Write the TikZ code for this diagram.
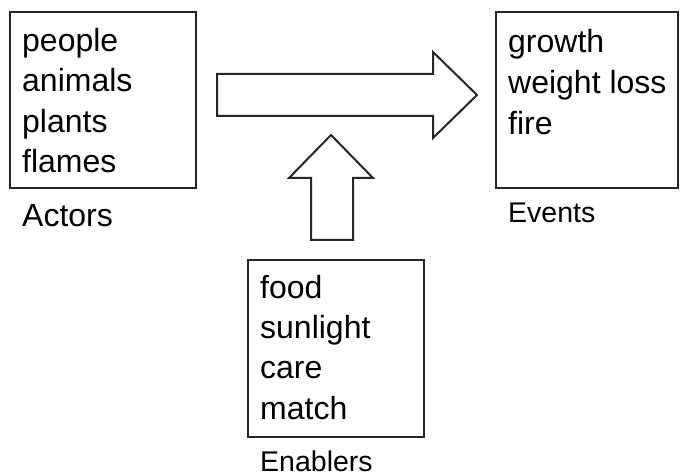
\documentclass[tikz,border=0pt]{standalone}
\usepackage{fontspec}
\setmainfont{Liberation Sans}
\begin{document}
\begin{tikzpicture}[x=1pt,y=-1pt,
  boxline/.style={draw=black!85,line width=2pt},
  item/.style={anchor=base west,inner sep=0pt,font=\fontsize{32}{38}\selectfont},
  captext/.style={anchor=base west,inner sep=0pt,font=\fontsize{28.5}{34}\selectfont},
  capbig/.style={anchor=base west,inner sep=0pt,font=\fontsize{32}{38}\selectfont},
  blockarrow/.style={draw=black!85,line width=2pt,line join=miter,fill=white}]
\useasboundingbox (0,0) rectangle (680,473);
% Actors box
\draw[boxline] (10,12) rectangle (196,188);
\node[item] (a1) at (22,52) {people};
\node[item] (a2) at (22,92) {animals};
\node[item] (a3) at (22,132.5) {plants};
\node[item] (a4) at (22,173) {flames};
\node[capbig] (actors) at (22,227) {Actors};
% Events box
\draw[boxline] (496,12) rectangle (678,188);
\node[item] (e1) at (508,53) {growth};
\node[item] (e2) at (508,94) {weight loss};
\node[item] (e3) at (508,134.5) {fire};
\node[captext] (events) at (508,223) {Events};
% Enablers box
\draw[boxline] (248,260) rectangle (424,437);
\node[item] (n1) at (260,298) {food};
\node[item] (n2) at (260,338) {sunlight};
\node[item] (n3) at (260,378) {care};
\node[item] (n4) at (260,419) {match};
\node[captext] (enablers) at (260,471) {Enablers};
% right block arrow
\draw[blockarrow] (217,74) -- (433,74) -- (433,52) -- (477,95) -- (433,138) -- (433,116) -- (217,116) -- cycle;
% up block arrow
\draw[blockarrow] (311,240) -- (311,178) -- (289,178) -- (331,135) -- (373,178) -- (353,178) -- (353,240) -- cycle;
\end{tikzpicture}
\end{document}
